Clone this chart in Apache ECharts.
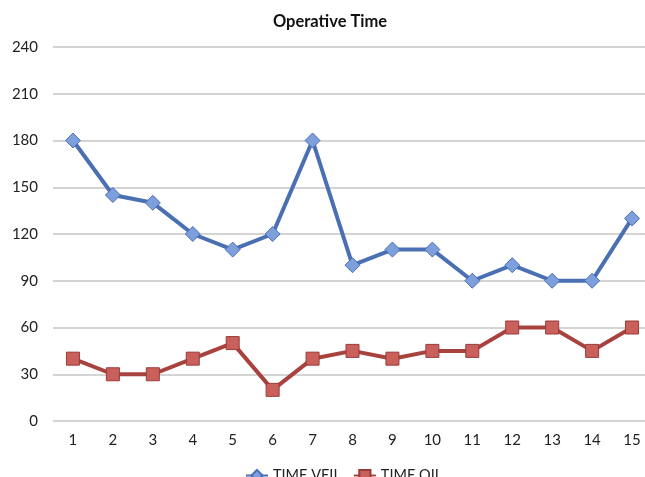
<!DOCTYPE html>
<html>
<head>
<meta charset="utf-8">
<script src="https://cdn.jsdelivr.net/npm/echarts@6/dist/echarts.min.js"></script>
<style>html,body{margin:0;padding:0;background:#fff;overflow:hidden;width:645px;height:477px;}#c{width:660px;height:477px;}</style>
</head>
<body>
<div id="c"></div>
<script>
const categories = ['1','2','3','4','5','6','7','8','9','10','11','12','13','14','15'];
const timeVeil = [180,145,140,120,110,120,180,100,110,110,90,100,90,90,130];
const timeOil = [40,30,30,40,50,20,40,45,40,45,45,60,60,45,60];
const seriesNames = ['TIME VEIL','TIME OIL'];

const chart = echarts.init(document.getElementById('c'));
const font = 'Lato, "Open Sans", sans-serif';
chart.setOption({
  animation: false,
  backgroundColor: '#fff',
  title: {
    text: 'Operative Time', left: 'center', top: 8,
    textStyle: {fontFamily: font, fontSize: 16.5, fontWeight: 'bold', color: '#111'}
  },
  legend: {
    data: seriesNames, left: 240, top: 463, padding: [5, 5], itemGap: 12, itemWidth: 22, itemHeight: 14,
    textStyle: {fontFamily: font, fontSize: 14.5, color: '#222'}
  },
  grid: {left: 53, right: 8, top: 47, bottom: 56, containLabel: false},
  xAxis: {
    type: 'category', data: categories, boundaryGap: true,
    axisLine: {show: false}, axisTick: {show: false},
    axisLabel: {fontFamily: font, fontSize: 15, color: '#222', margin: 12}
  },
  yAxis: {
    type: 'value', min: 0, max: 240, interval: 30,
    axisLine: {show: false}, axisTick: {show: false},
    axisLabel: {fontFamily: font, fontSize: 15, color: '#222', margin: 15},
    splitLine: {lineStyle: {color: '#c6c6c6', width: 1.5}}
  },
  series: [
    {
      name: seriesNames[0], type: 'line', data: timeVeil,
      symbol: 'diamond', symbolSize: 15,
      lineStyle: {color: '#4a6fb3', width: 4},
      itemStyle: {color: '#7d9fdc', borderColor: '#4a6fb3', borderWidth: 1},
      emphasis: {disabled: true}
    },
    {
      name: seriesNames[1], type: 'line', data: timeOil,
      symbol: 'rect', symbolSize: 13,
      lineStyle: {color: '#a8423f', width: 4},
      itemStyle: {color: '#c9605c', borderColor: '#9a3b38', borderWidth: 1},
      emphasis: {disabled: true}
    }
  ]
});
</script>
</body>
</html>
